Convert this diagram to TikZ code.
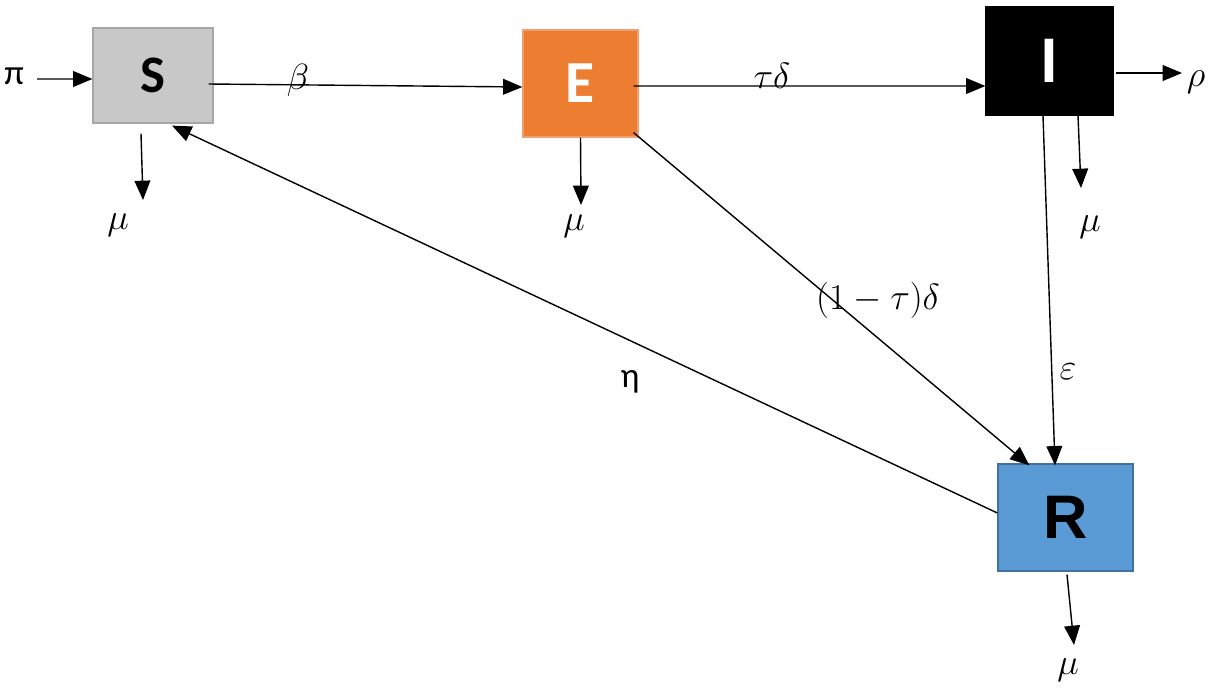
\documentclass[tikz,border=0pt]{standalone}
\usepackage{fontspec}
\newfontfamily\boxfont{Carlito}
\newfontfamily\rfont{Liberation Sans}
\newfontfamily\grk{Carlito}
\usetikzlibrary{arrows.meta,calc}
\definecolor{sgray}{HTML}{C8C8C8}
\definecolor{sborder}{HTML}{A6A6A6}
\definecolor{eorange}{HTML}{ED7D31}
\definecolor{eborder}{HTML}{F0A070}
\definecolor{rblue}{HTML}{5B9BD5}
\definecolor{rborder}{HTML}{41719C}
\tikzset{
  comp/.style={draw, line width=0.7pt, inner sep=0pt, font=\boxfont\bfseries\fontsize{34}{38}\selectfont},
  flow/.style={-{Triangle[length=11pt,width=9pt]}, line width=0.8pt},
  lab/.style={inner sep=0pt, font=\fontsize{21}{24}\selectfont},
  glab/.style={inner sep=0pt, font=\grk\fontsize{20}{23}\selectfont}
}
\begin{document}
\begin{tikzpicture}[x=0.02cm,y=-0.02cm]
\useasboundingbox (0,0) rectangle (1217,689);
% compartments
\node[comp, fill=sgray, draw=sborder, minimum width=2.4cm, minimum height=1.9cm, font=\boxfont\bfseries\fontsize{30}{34}\selectfont] (S) at (153,75.5) {S};
\node[comp, fill=eorange, draw=eborder, text=white, minimum width=2.3cm, minimum height=2.14cm] (E) at (580.5,83.5) {E};
\node[comp, fill=black, draw=black, text=white, minimum width=2.54cm, minimum height=2.16cm, font=\boxfont\bfseries\fontsize{38}{42}\selectfont] (I) at (1049.5,61) {I};
\node[comp, fill=rblue, draw=rborder, minimum width=2.7cm, minimum height=2.14cm, font=\rfont\bfseries\fontsize{35}{40}\selectfont] (R) at (1065.5,517.5) {R};
% labels
\node[glab] (pi) at (14,76) {π};
\node[lab] (beta) at (298,80) {$\beta$};
\node[lab] (taudelta) at (772,76) {$\tau\delta$};
\node[lab] (rho) at (1196,82) {$\rho$};
\node[lab] (muS) at (118,225) {$\mu$};
\node[lab] (muE) at (574,226) {$\mu$};
\node[lab] (muI) at (1090,227) {$\mu$};
\node[lab] (muR) at (1068,670) {$\mu$};
\node[lab] (eps) at (1068,372) {$\varepsilon$};
\node[glab] (eta) at (630,382) {η};
\node[lab] (omt) at (878,300) {$(1-\tau)\delta$};
% free ends
\coordinate (rhoend) at (1182,73);
\coordinate (muSend) at (143,200);
\coordinate (muEend) at (581,205);
\coordinate (muIend) at (1081,188);
\coordinate (muRend) at (1074,645);
% flows
\draw[flow] ($(pi.east)+(13,3)$) -- ($(S.west)+(0,3.5)$);
\draw[flow] ($(S.east)+(-5,8.5)$) -- ($(E.west)+(0,3.5)$);
\draw[flow] ($(E.east)+(-5,2.5)$) -- ($(I.west)+(0,25)$);
\draw[flow] ($(I.east)+(2,12)$) -- (rhoend);
\draw[flow] ($(S.south)+(-12,10)$) -- (muSend);
\draw[flow] (E.south) -- (muEend);
\draw[flow] ($(I.south)+(28.5,0)$) -- (muIend);
\draw[flow] ($(R.south)+(1.5,3)$) -- (muRend);
\draw[flow] ($(I.south)+(-6.5,0)$) -- ($(R.north)+(-10.5,2)$);
\draw[flow] ($(E.south east)+(-5,-5)$) -- ($(R.north west)+(32,2)$);
\draw[flow] ($(R.west)+(0,-4.5)$) -- ($(S.south)+(19,2)$);
\end{tikzpicture}
\end{document}
